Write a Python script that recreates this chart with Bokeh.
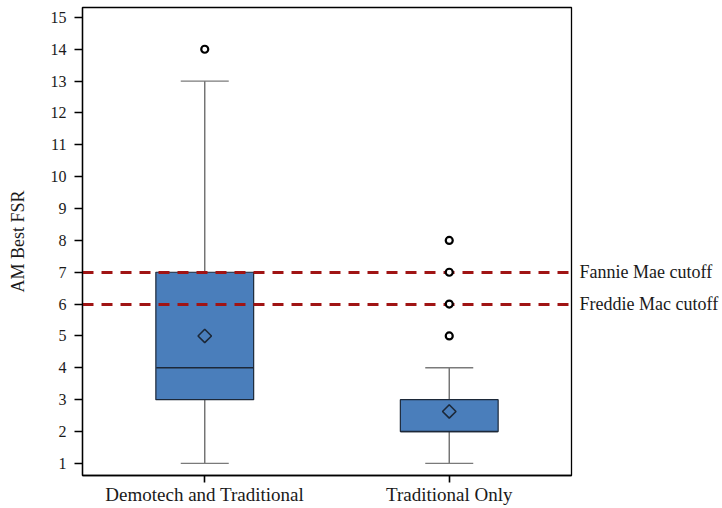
from bokeh.plotting import figure
from bokeh.models import FixedTicker, LinearAxis, Range1d, FactorRange
from bokeh.embed import file_html
from bokeh.resources import INLINE

# Box-plot summary per group
categories = ["Demotech and Traditional", "Traditional Only"]
q1 = [3, 2]
median = [4, 2]
q3 = [7, 3]
whisker_low = [1, 1]
whisker_high = [13, 4]
means = [5.0, 2.63]
outlier_cat = ["Demotech and Traditional", "Traditional Only", "Traditional Only",
               "Traditional Only", "Traditional Only"]
outlier_val = [14, 5, 6, 7, 8]

# Regulatory cutoffs
cutoff_vals = [7, 6]
cutoff_labels = ["Fannie Mae cutoff", "Freddie Mac cutoff"]

y_ticks = list(range(1, 16))

FONT = "Liberation Serif"
BOX_FILL = "#4a7ebb"
DARK = "#1c2838"
RED = "#a01414"
TEXT = "#1a1a1a"

p = figure(
    width=722, height=508,
    x_range=FactorRange(*categories, range_padding=0),
    y_range=Range1d(0.62, 15.31),
    output_backend="svg", toolbar_location=None,
    min_border_left=82, min_border_right=151,
    min_border_top=7, min_border_bottom=33,
)
p.x_range.factor_padding = 0
p.grid.visible = False
p.outline_line_color = "black"
p.outline_line_width = 1.3
p.background_fill_color = "white"
p.border_fill_color = "white"

# whiskers
p.segment(x0=categories, y0=whisker_low, x1=categories, y1=q1, line_color="#6e6e6e", line_width=1.4)
p.segment(x0=categories, y0=q3, x1=categories, y1=whisker_high, line_color="#6e6e6e", line_width=1.4)
# whisker caps
p.scatter(x=categories, y=whisker_low, marker="dash", size=48, line_color="#7a7a7a", line_width=1.4)
p.scatter(x=categories, y=whisker_high, marker="dash", size=48, line_color="#7a7a7a", line_width=1.4)

# boxes
p.vbar(x=categories, bottom=q1, top=q3, width=0.4, fill_color=BOX_FILL,
       line_color=DARK, line_width=1.2)
p.scatter(x=categories, y=median, marker="dash", size=97, line_color=DARK, line_width=1.4)

# means
p.scatter(x=categories, y=means, marker="square", angle=45, angle_units="deg", size=9.5,
          fill_color=BOX_FILL, line_color=DARK, line_width=1.6)

# cutoff lines
p.hspan(y=cutoff_vals, line_color=RED, line_width=3, line_dash="11 8")

# outliers
p.scatter(x=outlier_cat, y=outlier_val, marker="circle", size=7, fill_color="white",
          line_color="black", line_width=2.2)

# axes
p.yaxis.ticker = FixedTicker(ticks=y_ticks)
p.yaxis.axis_label = "AM Best FSR"
for ax in (p.xaxis[0], p.yaxis[0]):
    ax.axis_line_color = "black"
    ax.axis_line_width = 1.3
    ax.major_tick_line_color = "black"
    ax.major_tick_line_width = 1.6
    ax.major_tick_out = 8
    ax.major_tick_in = 0
    ax.minor_tick_line_color = None
    ax.major_label_text_font = FONT
    ax.major_label_text_color = TEXT
p.yaxis.major_label_text_font_size = "16px"
p.yaxis.major_label_standoff = 8
p.xaxis.major_tick_out = 7
p.xaxis.major_label_text_font_size = "19px"
p.xaxis.major_label_standoff = 1
p.yaxis.axis_label_text_font = FONT
p.yaxis.axis_label_text_font_size = "18px"
p.yaxis.axis_label_text_font_style = "normal"
p.yaxis.axis_label_text_color = TEXT
p.yaxis.axis_label_standoff = 20

# right-hand cutoff labels
right = LinearAxis(
    ticker=FixedTicker(ticks=cutoff_vals),
    major_label_overrides={v: t for v, t in zip(cutoff_vals, cutoff_labels)},
    axis_line_color=None, major_tick_line_color=None, minor_tick_line_color=None,
    major_tick_out=0, major_tick_in=0,
    major_label_text_font=FONT, major_label_text_font_size="18px",
    major_label_text_color=TEXT, major_label_standoff=8,
)
p.add_layout(right, "right")

open("out.html", "w").write(file_html(p, INLINE))
